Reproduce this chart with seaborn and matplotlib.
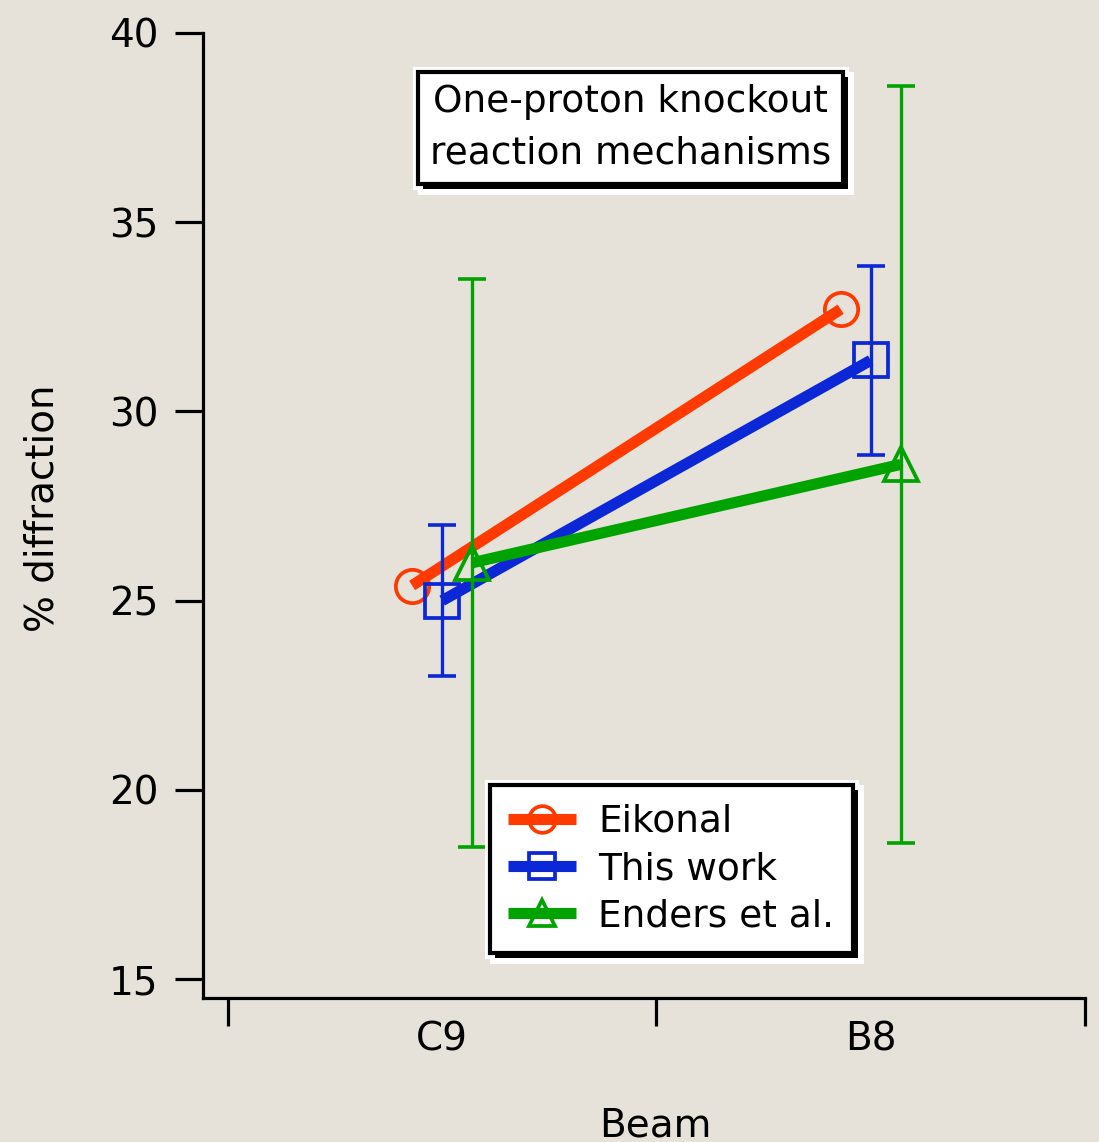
import numpy as np
import pandas as pd
import matplotlib
matplotlib.use("Agg")
import matplotlib.pyplot as plt
import matplotlib.patheffects as pe
import seaborn as sns

# ---- data -------------------------------------------------------------
beams = ["C9", "B8"]
series_names = ["Eikonal", "This work", "Enders et al."]
eikonal = [25.4, 32.7]
this_work = [25.0, 31.35]
this_work_err = [2.0, 2.5]
enders = [26.0, 28.6]
enders_err = [7.5, 10.0]
y_ticks = [15, 20, 25, 30, 35, 40]

# ---- styling ------------------------------------------------------------
colors = {"Eikonal": "#ff3a00", "This work": "#0b27d6", "Enders et al.": "#00a300"}
markers = {"Eikonal": "o", "This work": "s", "Enders et al.": "^"}
dodge = {"Eikonal": -0.07, "This work": 0.0, "Enders et al.": 0.07}
bg = "#e6e2d9"

sns.set_style("ticks")
plt.rcParams["font.family"] = ["DejaVu Sans"]
plt.rcParams["text.color"] = "black"
plt.rcParams["axes.labelcolor"] = "black"
plt.rcParams["xtick.color"] = "black"
plt.rcParams["ytick.color"] = "black"

rows = []
for name, vals, errs in [("Eikonal", eikonal, [np.nan, np.nan]),
                         ("This work", this_work, this_work_err),
                         ("Enders et al.", enders, enders_err)]:
    for i, (b, v, e) in enumerate(zip(beams, vals, errs)):
        rows.append({"series": name, "beam": b, "pos": i + 0.5, "value": v, "err": e})
df = pd.DataFrame(rows)

fig, ax = plt.subplots(figsize=(10.99, 11.42), dpi=100)
fig.subplots_adjust(left=203 / 1099, right=1085 / 1099,
                    top=1 - 33 / 1142, bottom=1 - 998 / 1142)
fig.patch.set_facecolor(bg)
ax.set_facecolor(bg)

for name in series_names:
    sub = df[df["series"] == name]
    xs = sub["pos"].values + dodge[name]
    c = colors[name]
    sns.lineplot(x=xs, y=sub["value"].values, ax=ax, color=c,
                 marker=markers[name], markersize=24, mec=c, mfc="none",
                 mew=2.7, linewidth=8, solid_capstyle="butt", label=name)
    if sub["err"].notna().all():
        ax.errorbar(xs, sub["value"].values, yerr=sub["err"].values, fmt="none",
                    ecolor=c, elinewidth=2.4, capsize=10, capthick=2.6)

# axes
ax.set_xlim(-0.058, 2.0)
ax.set_ylim(14.5, 40)
ax.set_yticks(y_ticks)
ax.set_xticks([0, 1, 2])
ax.set_xticklabels(["", "", ""])
ax.set_xticks([0.5, 1.5], minor=True)
ax.set_xticklabels(beams, minor=True)
ax.tick_params(axis="both", which="major", direction="out", length=20, width=2.3,
               labelsize=28, color="black", labelcolor="black")
ax.tick_params(axis="y", which="major", pad=12)
ax.tick_params(axis="x", which="minor", length=0, pad=16, labelsize=28,
               labelcolor="black")
ax.tick_params(axis="y", which="minor", left=False)
for side in ["top", "right"]:
    ax.spines[side].set_visible(False)
for side in ["left", "bottom"]:
    ax.spines[side].set_linewidth(2.3)
    ax.spines[side].set_color("black")

ax.set_xlabel("Beam", fontsize=28)
ax.xaxis.set_label_coords(0.5125, -0.112)
ax.set_ylabel("% diffraction", fontsize=28)
ax.yaxis.set_label_coords(-0.160, 0.508)

box_effects = [
    pe.Stroke(linewidth=8, foreground="white"),
    pe.Stroke(offset=(3.5, -3.5), linewidth=8, foreground="white"),
    pe.SimplePatchShadow(offset=(3.5, -3.5), shadow_rgbFace="black", alpha=1),
    pe.Normal(),
]

# title box
t = ax.text(0.485, 0.9016, "One-proton knockout\nreaction mechanisms",
            transform=ax.transAxes, ha="center", va="center", fontsize=27,
            linespacing=1.55,
            bbox=dict(boxstyle="square,pad=0.32", fc="white", ec="black", lw=3))
t.get_bbox_patch().set_path_effects(box_effects)

# legend
handles, labels = ax.get_legend_handles_labels()
leg = ax.legend(handles, labels, loc="upper left", bbox_to_anchor=(0.325, 0.2207),
                borderaxespad=0, fontsize=27, frameon=True, fancybox=False,
                edgecolor="black", framealpha=1, facecolor="white",
                handlelength=1.8, handletextpad=0.6, labelspacing=0.3,
                borderpad=0.5, markerscale=0.8)
leg.get_frame().set_linewidth(3)
leg.get_frame().set_path_effects(box_effects)

fig.savefig("out.png", dpi=100, facecolor=bg)
